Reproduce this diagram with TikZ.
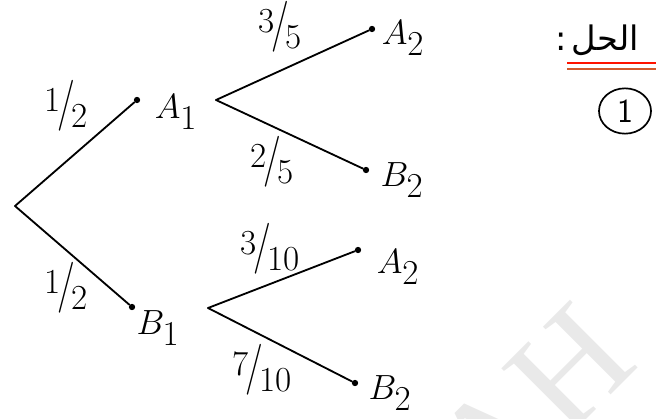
\documentclass[tikz,border=0pt]{standalone}
\usepackage{fontspec}
\usepackage{graphicx}
\usepackage{tikz}
\usetikzlibrary{shapes.geometric}
\newfontfamily\arabicfont[Script=Arabic]{DejaVu Sans}
\newfontfamily\markfont{Liberation Serif}
\TeXXeTstate=1
\newcommand{\slfrac}[2]{\raisebox{0.45ex}{#1}\kern-0.1em\scalebox{1.1}[1.45]{/}\kern-0.1em\raisebox{-0.55ex}{#2}}

\begin{document}
\begin{tikzpicture}[x=0.025cm, y=-0.025cm,
    branch/.style={line width=1.3pt, line cap=round},
    enddot/.style={circle, fill, inner sep=0pt, minimum size=4.5pt},
    event/.style={font=\fontsize{33}{35}\selectfont, inner sep=0pt},
    prob/.style={font=\fontsize{25}{27}\selectfont, inner sep=0pt}]
    \useasboundingbox (0,0) rectangle (668,419);

    % watermark
    \begin{scope}
        \clip (0,0) rectangle (668,419);
        \node[rotate=45, text=gray!17, font=\markfont\fontsize{104}{104}\selectfont] (mark) at (532,405) {AH};
    \end{scope}

    % root and first level
    \coordinate (root) at (15,206);
    \node[enddot] (a1dot) at (137,100) {};
    \node[enddot] (b1dot) at (132,307) {};
    \draw[branch] (root) -- (a1dot);
    \draw[branch] (root) -- (b1dot);
    \node[event] (A1) at (176,112) {$A_1$};
    \node[event] (B1) at (158,328) {$B_1$};
    \node[prob] (pA1) at (66,106) {\slfrac{1}{2}};
    \node[prob] (pB1) at (66,288) {\slfrac{1}{2}};

    % second level after A1
    \coordinate (a1fork) at (216,100);
    \node[enddot] (a2dotu) at (372,29) {};
    \node[enddot] (b2dotu) at (366,170) {};
    \draw[branch] (a1fork) -- (a2dotu);
    \draw[branch] (a1fork) -- (b2dotu);
    \node[event] (A2u) at (403,38) {$A_2$};
    \node[event] (B2u) at (402,180) {$B_2$};
    \node[prob] (pA2u) at (280,27) {\slfrac{3}{5}};
    \node[prob] (pB2u) at (272,162) {\slfrac{2}{5}};

    % second level after B1
    \coordinate (b1fork) at (208,308);
    \node[enddot] (a2dotl) at (358,250) {};
    \node[enddot] (b2dotl) at (355,383) {};
    \draw[branch] (b1fork) -- (a2dotl);
    \draw[branch] (b1fork) -- (b2dotl);
    \node[event] (A2l) at (398,267) {$A_2$};
    \node[event] (B2l) at (390,393) {$B_2$};
    \node[prob] (pA2l) at (270,249) {\slfrac{3}{10}};
    \node[prob] (pB2l) at (262,370) {\slfrac{7}{10}};

    % heading
    \node[font=\arabicfont\fontsize{24}{26}\selectfont, inner sep=0pt] (head) at (597,40) {:\,\beginR الحل\endR};
    \draw[red!85!orange, line width=1.5pt] (567,63) -- (656,63);
    \draw[brown!70!red, line width=1.2pt] (567,69) -- (656,69);
    \node[draw, ellipse, line width=1.2pt, minimum width=37pt, minimum height=26pt,
          font=\sffamily\fontsize{24}{26}\selectfont] (part) at (625,111) {1};
\end{tikzpicture}
\end{document}
